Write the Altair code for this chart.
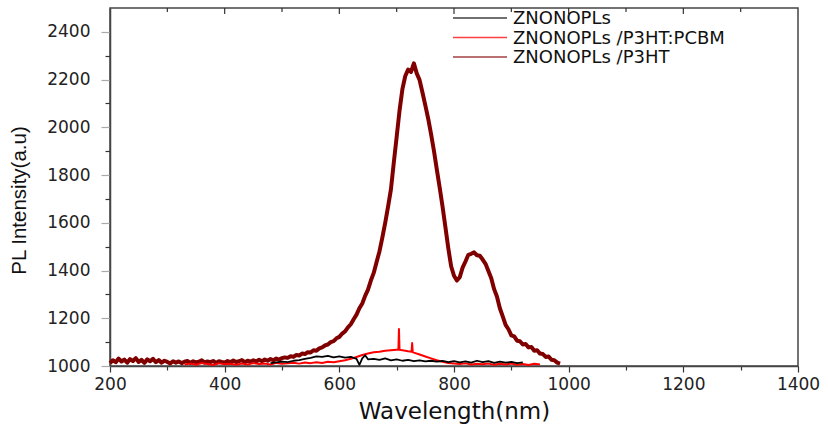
import altair as alt
import pandas as pd

NAMES = ["ZNONOPLs", "ZNONOPLs /P3HT:PCBM", "ZNONOPLs /P3HT"]
COLORS = ["#000000", "#FF0000", "#800000"]

# ZNONOPLs /P3HT : sampled every 5 nm from 200 nm
P3HT_START = 200
P3HT_STEP = 5
P3HT_VALUES = [
    1012, 1024, 1016, 1031, 1019, 1027, 1014, 1029, 1021, 1033, 1017, 1026, 1013, 1028, 1020, 1030, 1016, 1025, 1014, 1022,
    1017, 1011, 1020, 1014, 1019, 1012, 1018, 1021, 1013, 1020, 1015, 1018, 1024, 1014, 1019, 1016, 1021, 1013, 1020, 1017,
    1015, 1021, 1016, 1023, 1017, 1020, 1025, 1016, 1022, 1018, 1024, 1019, 1026, 1020, 1027, 1022, 1029, 1024, 1031, 1027,
    1033, 1036, 1034, 1041, 1038, 1046, 1044, 1052, 1050, 1058, 1057, 1066, 1064, 1074, 1078, 1086, 1090, 1100, 1104, 1116,
    1122, 1136, 1145, 1162, 1175, 1196, 1215, 1242, 1262, 1294, 1320, 1358, 1390, 1436, 1480, 1538, 1600, 1668, 1740, 1852,
    1960, 2070, 2160, 2215, 2242, 2232, 2268, 2226, 2198, 2146, 2092, 2036, 1972, 1902, 1824, 1748, 1668, 1582, 1494, 1418,
    1378, 1358, 1372, 1412, 1438, 1466, 1470, 1476, 1464, 1462, 1446, 1428, 1398, 1368, 1322, 1290, 1242, 1208, 1172, 1154,
    1128, 1124, 1106, 1104, 1090, 1092, 1078, 1080, 1064, 1066, 1052, 1050, 1038, 1040, 1026, 1024, 1014, 1010,
]

PCBM_WL = [330, 340, 350, 360, 370, 380, 390, 400, 410, 420, 430, 440, 450, 460, 470, 480, 490, 500, 510, 520,
           530, 540, 550, 560, 570, 580, 590, 600, 610, 620, 630, 640, 650, 660, 670, 680, 690, 700, 703, 704, 705, 710,
           715, 720, 726, 727, 728, 730, 740, 750, 760, 770, 780, 790, 800, 810, 820, 830, 840, 850, 860, 870, 880, 890,
           900, 910, 920, 930, 940, 950]
PCBM_VALUES = [1006, 1010, 1005, 1012, 1008, 1004, 1011, 1007, 1009, 1005, 1010, 1006, 1012, 1008, 1010, 1006, 1013, 1009, 1011, 1014,
               1010, 1015, 1012, 1016, 1013, 1018, 1016, 1020, 1024, 1030, 1038, 1046, 1052, 1058, 1060, 1064, 1066, 1068, 1068, 1155, 1068, 1066,
               1064, 1062, 1060, 1096, 1058, 1056, 1048, 1040, 1032, 1024, 1018, 1013, 1010, 1008, 1011, 1006, 1009, 1007, 1010, 1005, 1009, 1006,
               1010, 1005, 1008, 1004, 1009, 1006]

ZNO_WL = [480, 490, 500, 510, 520, 530, 540, 550, 560, 570, 580, 590, 600, 610, 620, 630, 635, 640, 645, 650,
          660, 670, 680, 690, 700, 710, 720, 730, 740, 750, 760, 770, 780, 790, 800, 810, 820, 830, 840, 850,
          860, 870, 880, 890, 900, 910, 920]
ZNO_VALUES = [1012, 1015, 1018, 1016, 1022, 1025, 1030, 1034, 1040, 1038, 1042, 1036, 1040, 1035, 1038, 1030, 1005, 1032, 1045, 1028,
              1030, 1026, 1032, 1024, 1028, 1022, 1026, 1020, 1024, 1019, 1022, 1018, 1021, 1016, 1020, 1015, 1019, 1014, 1022, 1016,
              1020, 1013, 1018, 1014, 1017, 1012, 1015]

X_TICKS = [200, 300, 400, 500, 600, 700, 800, 900, 1000, 1100, 1200, 1300, 1400]
Y_TICKS = [1000, 1100, 1200, 1300, 1400, 1500, 1600, 1700, 1800, 1900, 2000, 2100, 2200, 2300, 2400]
TOP_MAJOR = [400, 600, 800, 1000, 1200]
TOP_MINOR = [300, 500, 700, 900, 1100, 1300]

rows = []
for i, v in enumerate(P3HT_VALUES):
    rows.append({"wl": P3HT_START + P3HT_STEP * i, "val": v, "series": NAMES[2]})
for w, v in zip(PCBM_WL, PCBM_VALUES):
    rows.append({"wl": w, "val": v, "series": NAMES[1]})
for w, v in zip(ZNO_WL, ZNO_VALUES):
    rows.append({"wl": w, "val": v, "series": NAMES[0]})
df = pd.DataFrame(rows)

x_enc = alt.X(
    "wl:Q",
    scale=alt.Scale(domain=[200, 1400], nice=False, zero=False),
    axis=alt.Axis(
        values=X_TICKS, format="d",
        labelExpr="datum.value % 200 === 0 ? datum.label : ''",
        title="Wavelength(nm)",
        titleFont="DejaVu Sans", titleFontSize=23, titleFontWeight="normal", titleColor="#111",
        titleY=45, titleBaseline="middle",
        labelFont="DejaVu Sans", labelFontSize=17, labelColor="#222", labelPadding=4,
        tickSize={"condition": {"test": "datum.value % 200 !== 0", "value": 4}, "value": 6},
        tickColor="#333", tickWidth=1.2,
        domainColor="#444", domainWidth=1.5, grid=False,
        labelFlush=False, labelOverlap=False,
    ),
)
y_enc = alt.Y(
    "val:Q",
    scale=alt.Scale(domain=[1000, 2500], nice=False, zero=False),
    axis=alt.Axis(
        values=Y_TICKS, format="d",
        labelExpr="datum.value % 200 === 0 ? datum.label : ''",
        title="PL Intensity(a.u)",
        titleFont="Liberation Sans", titleFontSize=20.5, titleFontWeight="normal", titleColor="#111",
        titleAngle=270, titleX=-91, titleY=192, titleAlign="center", titleBaseline="middle",
        labelFont="DejaVu Sans", labelFontSize=17, labelColor="#222", labelPadding=11,
        tickSize={"condition": {"test": "datum.value % 200 !== 0", "value": 5}, "value": 9},
        tickColor={"condition": {"test": "datum.value % 200 !== 0", "value": "#333"}, "value": "#aaaaaa"},
        tickWidth=1.2,
        domainColor="#444", domainWidth=1.5, grid=False,
        labelFlush=False, labelOverlap=False,
    ),
)
color_enc = alt.Color(
    "series:N",
    scale=alt.Scale(domain=NAMES, range=COLORS),
    legend=None,
)

def series_layer(name, width):
    return (
        alt.Chart(df)
        .transform_filter(alt.datum.series == name)
        .mark_line(strokeWidth=width, strokeJoin="round")
        .encode(x=x_enc, y=y_enc, color=color_enc)
    )

top_major = alt.Chart(pd.DataFrame({"wl": TOP_MAJOR})).mark_rule(color="#333", strokeWidth=1.2).encode(
    x=x_enc, y=alt.value(0), y2=alt.value(6)
)
top_minor = alt.Chart(pd.DataFrame({"wl": TOP_MINOR})).mark_rule(color="#333", strokeWidth=1.2).encode(
    x=x_enc, y=alt.value(0), y2=alt.value(4)
)

# legend (inside plot, top)
legend_layers = []
for i, (name, col) in enumerate(zip(NAMES, COLORS)):
    ly = 10 + 19.5 * i
    ldf = pd.DataFrame({"label": [name]})
    legend_layers.append(
        alt.Chart(ldf).mark_rule(color=col, strokeWidth=1.5, opacity=0.75).encode(
            x=alt.value(343), x2=alt.value(397), y=alt.value(ly)
        )
    )
    legend_layers.append(
        alt.Chart(ldf).mark_text(
            align="left", baseline="middle", font="DejaVu Sans", fontSize=18, color="#111"
        ).encode(text="label:N", x=alt.value(403), y=alt.value(ly + 1))
    )

chart = alt.layer(
    series_layer(NAMES[2], 4),
    series_layer(NAMES[1], 2),
    series_layer(NAMES[0], 1.8),
    top_major,
    top_minor,
    *legend_layers,
).properties(
    width=688, height=358,
    autosize=alt.AutoSizeParams(type="none"),
    padding={"left": 110, "top": 8, "right": 30, "bottom": 61},
    background="white",
).configure_view(stroke="#444", strokeWidth=1.5)

chart.save("out.html", embed_options={"renderer": "svg", "actions": False})
